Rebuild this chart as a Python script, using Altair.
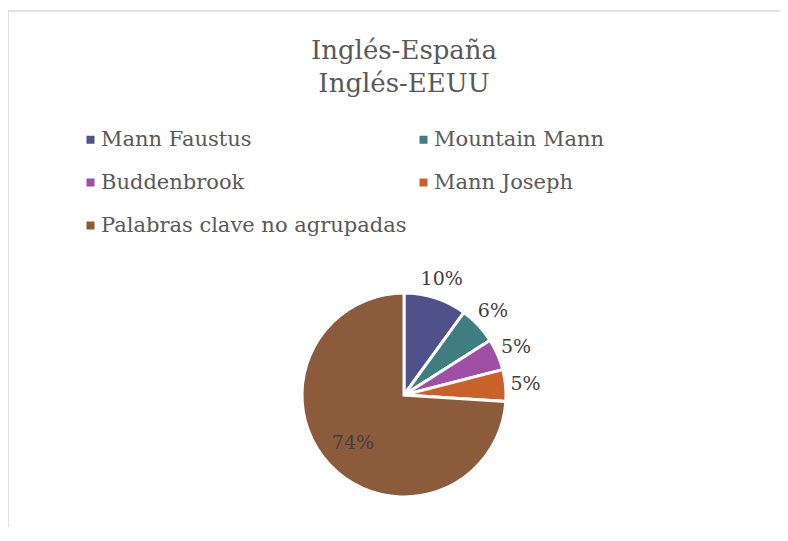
import altair as alt
import pandas as pd

title_lines = ["Inglés-España", "Inglés-EEUU"]
categories = ["Mann Faustus", "Mountain Mann", "Buddenbrook", "Mann Joseph",
              "Palabras clave no agrupadas"]
values = [10, 6, 5, 5, 74]
colors = ["#50518A", "#3F7D80", "#A04EA6", "#C8622A", "#8B5B3B"]

df = pd.DataFrame({"category": categories, "value": values,
                   "rank": list(range(len(categories)))})
title_df = pd.DataFrame({"t": ["\n".join(title_lines)]})

FONT = "DejaVu Serif"
W, H = 772, 516
CX, CY = 396, 384

base = alt.Chart(df).transform_calculate(
    label_out="datum.value < 50 ? datum.value + '%' : ''",
    label_in="datum.value >= 50 ? datum.value + '%' : ''",
).encode(
    theta=alt.Theta("value:Q", stack=True),
    order=alt.Order("rank:Q", sort="ascending"),
    x=alt.value(CX),
    y=alt.value(CY),
)

arcs = base.mark_arc(radius=102, stroke="white", strokeWidth=3).encode(
    color=alt.Color(
        "category:N",
        scale=alt.Scale(domain=categories, range=colors),
        sort=categories,
        legend=alt.Legend(
            orient="none", legendX=68, legendY=118, columns=2,
            direction="horizontal",
            symbolType="square", symbolSize=64, symbolStrokeWidth=0,
            symbolOffset=4,
            labelFont=FONT, labelFontSize=21, labelColor="#595959",
            rowPadding=21, columnPadding=2, labelOffset=0, title=None,
            padding=0, labelLimit=1000,
        ),
    )
)

labels_out = base.mark_text(radius=122, font=FONT, fontSize=19,
                            color="#404040").encode(text="label_out:N")
labels_in = base.mark_text(radius=70, font=FONT, fontSize=19,
                           color="#404040").encode(text="label_in:N")

title = alt.Chart(title_df).mark_text(
    font=FONT, fontSize=26, color="#595959", lineBreak="\n",
    lineHeight=33, baseline="alphabetic", align="center"
).encode(text="t:N", x=alt.value(CX), y=alt.value(48))

frame_top = alt.Chart(title_df).mark_rule(color="#D9D9D9", strokeWidth=1.5).encode(
    x=alt.value(0), x2=alt.value(W + 10), y=alt.value(0))
frame_left = alt.Chart(title_df).mark_rule(color="#D9D9D9", strokeWidth=1.5).encode(
    x=alt.value(0), y=alt.value(0), y2=alt.value(H + 10))

chart = alt.layer(frame_top, frame_left, arcs, labels_out, labels_in, title).properties(
    width=W, height=H,
    autosize=alt.AutoSizeParams(type="none"),
    padding={"left": 0, "top": 3, "right": 0, "bottom": 0},
).configure_view(strokeWidth=0)

chart.save("out.html", embed_options={"renderer": "svg", "actions": False})
